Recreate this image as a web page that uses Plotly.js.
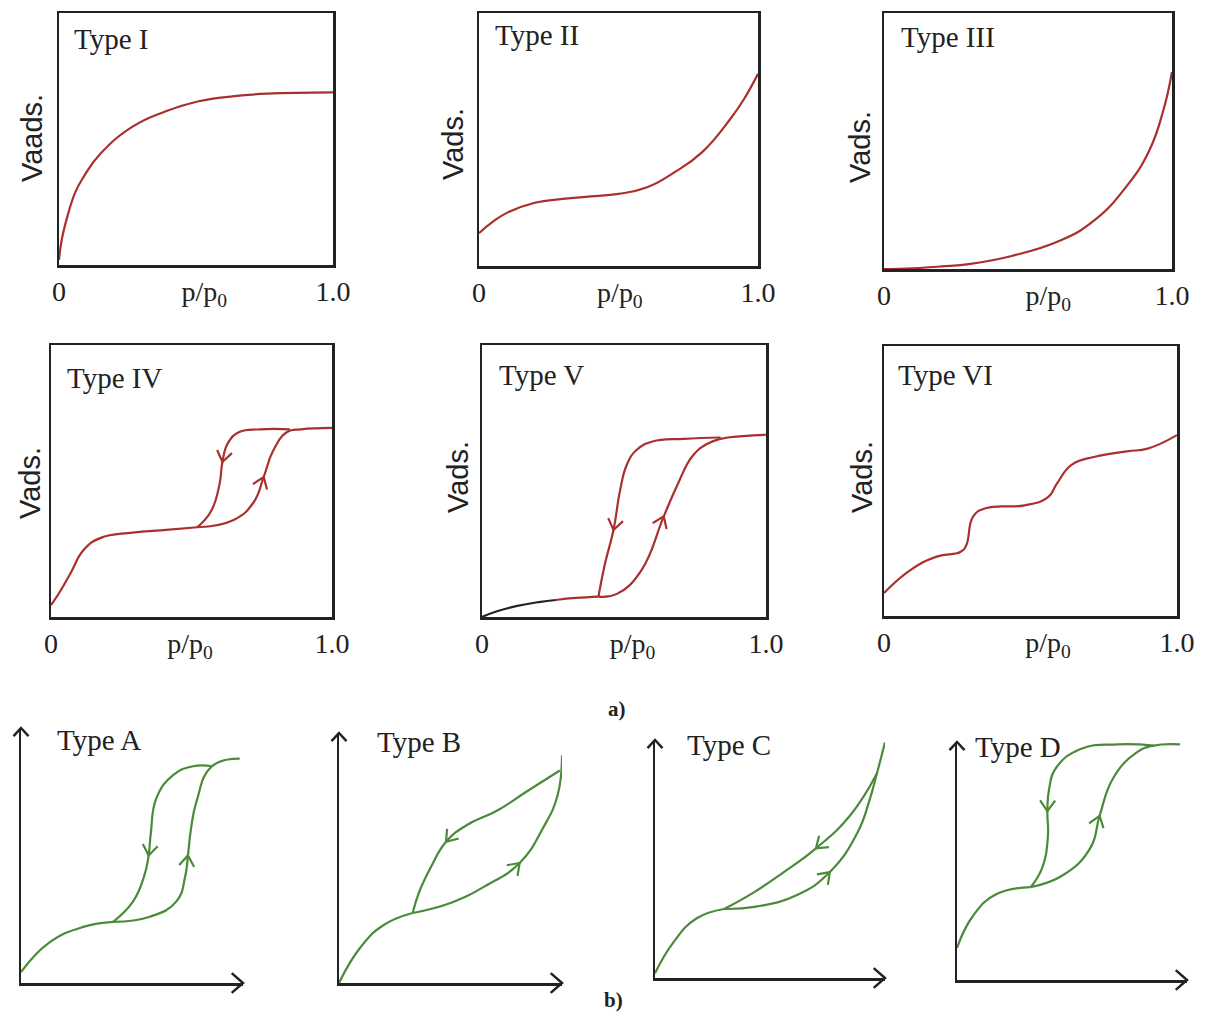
<!DOCTYPE html>
<html><head><meta charset="utf-8">
<script src="https://cdn.plot.ly/plotly-3.0.1.min.js"></script>
<style>html,body{margin:0;padding:0;background:#fff}</style>
</head><body><div id="chart" style="width:1213px;height:1017px"></div>
<script>
// ---------------- DATA (relative adsorbed volume vs p/p0) ----------------
const typeI_x = [0, 0.01, 0.03, 0.06, 0.09, 0.15, 0.27, 0.39, 0.51, 0.64, 0.76, 1.0];
const typeI_y = [0.02, 0.10, 0.19, 0.29, 0.35, 0.44, 0.55, 0.61, 0.65, 0.67, 0.68, 0.685];

const typeII_x = [0, 0.05, 0.1, 0.2, 0.3, 0.4, 0.5, 0.6, 0.7, 0.8, 0.9, 0.95, 1.0];
const typeII_y = [0.13, 0.175, 0.21, 0.25, 0.265, 0.275, 0.285, 0.31, 0.37, 0.45, 0.58, 0.66, 0.76];

const typeIII_x = [0, 0.1, 0.2, 0.3, 0.44, 0.61, 0.73, 0.84, 0.92, 0.97, 1.0];
const typeIII_y = [0, 0.003, 0.01, 0.02, 0.05, 0.11, 0.19, 0.32, 0.46, 0.62, 0.77];

const typeIV_base_x = [0, 0.03, 0.069, 0.116, 0.175, 0.29, 0.41, 0.52];
const typeIV_base_y = [0.044, 0.09, 0.16, 0.246, 0.29, 0.31, 0.32, 0.33];
const typeIV_des_x = [0.85, 0.745, 0.67, 0.63, 0.61, 0.60, 0.57, 0.52];
const typeIV_des_y = [0.69, 0.69, 0.68, 0.64, 0.57, 0.49, 0.39, 0.33];
const typeIV_ads_x = [0.52, 0.65, 0.72, 0.757, 0.79, 0.84, 0.89, 1.0];
const typeIV_ads_y = [0.33, 0.357, 0.42, 0.515, 0.61, 0.68, 0.69, 0.695];

const typeV_start_x = [0, 0.05, 0.12, 0.2, 0.26];
const typeV_start_y = [0, 0.02, 0.04, 0.055, 0.0625];
const typeV_base_x = [0.26, 0.33, 0.41];
const typeV_base_y = [0.0625, 0.07, 0.075];
const typeV_des_x = [0.84, 0.71, 0.60, 0.545, 0.51, 0.487, 0.463, 0.434, 0.41];
const typeV_des_y = [0.66, 0.655, 0.645, 0.615, 0.56, 0.47, 0.32, 0.20, 0.075];
const typeV_ads_x = [0.41, 0.475, 0.56, 0.64, 0.69, 0.74, 0.79, 0.84, 0.92, 1.0];
const typeV_ads_y = [0.075, 0.085, 0.17, 0.37, 0.49, 0.59, 0.635, 0.655, 0.665, 0.67];

const typeVI_x = [0, 0.09, 0.18, 0.26, 0.28, 0.305, 0.35, 0.48, 0.56, 0.59, 0.64, 0.72, 0.83, 0.90, 1.0];
const typeVI_y = [0.085, 0.17, 0.22, 0.237, 0.26, 0.37, 0.40, 0.41, 0.44, 0.49, 0.56, 0.59, 0.61, 0.62, 0.67];

const typeA_base_x = [0, 0.13, 0.28, 0.415];
const typeA_base_y = [0.043, 0.16, 0.22, 0.24];
const typeA_des_x = [0.86, 0.775, 0.685, 0.61, 0.585, 0.575, 0.555, 0.505, 0.415];
const typeA_des_y = [0.85, 0.85, 0.815, 0.725, 0.59, 0.50, 0.42, 0.32, 0.24];
const typeA_ads_x = [0.415, 0.58, 0.70, 0.74, 0.752, 0.765, 0.79, 0.86, 0.985];
const typeA_ads_y = [0.24, 0.26, 0.32, 0.42, 0.50, 0.60, 0.71, 0.85, 0.88];

const typeB_base_x = [0, 0.094, 0.197, 0.33];
const typeB_base_y = [0, 0.14, 0.23, 0.28];
const typeB_des_x = [0.99, 0.84, 0.71, 0.57, 0.48, 0.41, 0.36, 0.33];
const typeB_des_y = [0.85, 0.765, 0.69, 0.63, 0.565, 0.46, 0.365, 0.28];
const typeB_ads_x = [0.33, 0.50, 0.66, 0.81, 0.915, 0.98, 1.0];
const typeB_ads_y = [0.28, 0.32, 0.39, 0.48, 0.62, 0.75, 0.91];

const typeC_base_x = [0, 0.08, 0.18, 0.30];
const typeC_base_y = [0.02, 0.15, 0.25, 0.29];
const typeC_des_x = [0.965, 0.85, 0.70, 0.56, 0.43, 0.30];
const typeC_des_y = [0.86, 0.685, 0.545, 0.445, 0.36, 0.29];
const typeC_ads_x = [0.30, 0.44, 0.62, 0.76, 0.88, 0.935, 0.965, 1.0];
const typeC_ads_y = [0.29, 0.30, 0.35, 0.445, 0.61, 0.755, 0.86, 0.99];

const typeD_base_x = [0, 0.07, 0.17, 0.32];
const typeD_base_y = [0.135, 0.27, 0.36, 0.39];
const typeD_des_x = [0.855, 0.70, 0.535, 0.43, 0.40, 0.393, 0.395, 0.37, 0.32];
const typeD_des_y = [0.985, 0.99, 0.97, 0.89, 0.80, 0.71, 0.60, 0.47, 0.39];
const typeD_ads_x = [0.32, 0.46, 0.58, 0.62, 0.68, 0.78, 0.855, 0.97];
const typeD_ads_y = [0.39, 0.44, 0.555, 0.69, 0.85, 0.955, 0.985, 0.99];

// labels
const panelTitles = ['Type I', 'Type II', 'Type III', 'Type IV', 'Type V', 'Type VI', 'Type A', 'Type B', 'Type C', 'Type D'];
const yTitles = ['Vaads.', 'Vads.', 'Vads.', 'Vads.', 'Vads.', 'Vads.'];
const xTickVals = [0, 1];
const xTickText = ['0', '1.0'];
const xTitle = 'p/p<sub>0</sub>';
const xTitlePos = [0.53, 0.505, 0.57, 0.495, 0.53, 0.56];
const groupLabels = ['a)', 'b)'];

// ---------------- LAYOUT GEOMETRY ----------------
const W = 1213, H = 1017;
const RED = '#a8302e', GREEN = '#4a8a3a', BLACK = '#222';
// box panels: [left, top, right, bottom] in px
const boxRects = [[59,13,333,265],[479,13,758,266],[884,13,1172,269],[51,345,332,617],[482,345,766,617],[884,346,1177,616]];
// arrow-axis panels: [originX, originY, tipX, tipY] in px
const arrowRects = [[21,983,243,728],[339,983,562,733],[655,978,885,740],[957,980,1187,742]];
const titlePos = [[72,39],[493,35],[899,37],[65,378],[497,375],[896,375],[55,740],[375,742],[685,745],[973,747]];
const yTitlePos = [[32,138],[453,144],[860,147],[30,483],[458,477],[862,477]];
const groupPos = [[617,709],[613,1000]];

const xn = n => n === 1 ? 'x' : 'x' + n;
const yn = n => n === 1 ? 'y' : 'y' + n;
const layout = {
  width: W, height: H, margin: {l:0, r:0, t:0, b:0},
  paper_bgcolor: '#fff', plot_bgcolor: 'rgba(0,0,0,0)', showlegend: false,
  annotations: [], shapes: []
};
const pxSize = {};
boxRects.forEach((r, i) => {
  const n = i + 1;
  layout['xaxis' + (n === 1 ? '' : n)] = {
    domain: [r[0] / W, r[2] / W], range: [0, 1], anchor: yn(n),
    showline: true, mirror: true, linecolor: BLACK, linewidth: 2.5,
    showgrid: false, zeroline: false, ticks: '', fixedrange: true,
    tickmode: 'array', tickvals: [xTickVals[0], xTitlePos[i], xTickVals[1]],
    ticktext: [xTickText[0], xTitle, xTickText[1]],
    tickfont: {family: 'Liberation Serif, serif', size: 28, color: BLACK}, ticklabelstandoff: 0
  };
  layout['yaxis' + (n === 1 ? '' : n)] = {
    domain: [1 - r[3] / H, 1 - r[1] / H], range: [0, 1], anchor: xn(n),
    showline: true, mirror: true, linecolor: BLACK, linewidth: 2.5,
    showgrid: false, zeroline: false, ticks: '', showticklabels: false, fixedrange: true
  };
  pxSize[n] = [r[2] - r[0], r[3] - r[1]];
});
arrowRects.forEach((r, i) => {
  const n = i + 7;
  layout['xaxis' + n] = {
    domain: [r[0] / W, r[2] / W], range: [0, 1], anchor: yn(n),
    showline: true, linecolor: BLACK, linewidth: 2.5, showgrid: false, zeroline: false,
    ticks: '', showticklabels: false, fixedrange: true
  };
  layout['yaxis' + n] = {
    domain: [1 - r[1] / H, 1 - r[3] / H], range: [0, 1], anchor: xn(n),
    showline: true, linecolor: BLACK, linewidth: 2.5, showgrid: false, zeroline: false,
    ticks: '', showticklabels: false, fixedrange: true
  };
  pxSize[n] = [r[2] - r[0], r[1] - r[3]];
});

// chevron helper: tip at anchor, pointing along (dx,dy) given in px (y up)
function chevron(xref, yref, x0, y0, dx, dy, len, ang, color, width) {
  const m = Math.hypot(dx, dy), ux = -dx / m, uy = -dy / m;
  const c = Math.cos(ang), s = Math.sin(ang);
  const a1 = [len * (ux * c - uy * s), len * (ux * s + uy * c)];
  const a2 = [len * (ux * c + uy * s), len * (-ux * s + uy * c)];
  return {type: 'path', xref, yref, xsizemode: 'pixel', ysizemode: 'pixel', xanchor: x0, yanchor: y0,
    path: `M${a1[0].toFixed(2)},${a1[1].toFixed(2)} L0,0 L${a2[0].toFixed(2)},${a2[1].toFixed(2)}`,
    line: {color, width}, layer: 'above'};
}
// axis-end arrows for the b) panels
arrowRects.forEach(r => {
  layout.shapes.push(chevron('paper', 'paper', r[2] / W, 1 - r[1] / H, 1, 0, 15, 0.72, BLACK, 2.5));
  layout.shapes.push(chevron('paper', 'paper', r[0] / W, 1 - r[3] / H, 0, 1, 11, 0.75, BLACK, 2.5));
});

const traces = [];
function addLine(n, xs, ys, color) {
  traces.push({type: 'scatter', mode: 'lines', x: xs, y: ys, xaxis: xn(n), yaxis: yn(n),
    line: {color, width: 2.2, shape: 'spline', smoothing: 1.3}, hoverinfo: 'skip'});
}
function addArrow(n, xs, ys, i, color) {
  const [sx, sy] = pxSize[n];
  const dx = (xs[i + 1] - xs[i - 1]) * sx, dy = (ys[i + 1] - ys[i - 1]) * sy;
  layout.shapes.push(chevron(xn(n), yn(n), xs[i], ys[i], dx, dy, 13, 0.62, color, 2.2));
}

addLine(1, typeI_x, typeI_y, RED);
addLine(2, typeII_x, typeII_y, RED);
addLine(3, typeIII_x, typeIII_y, RED);
addLine(4, typeIV_base_x, typeIV_base_y, RED);
addLine(4, typeIV_des_x, typeIV_des_y, RED);
addLine(4, typeIV_ads_x, typeIV_ads_y, RED);
addArrow(4, typeIV_des_x, typeIV_des_y, 4, RED);
addArrow(4, typeIV_ads_x, typeIV_ads_y, 3, RED);
addLine(5, typeV_start_x, typeV_start_y, BLACK);
addLine(5, typeV_base_x, typeV_base_y, RED);
addLine(5, typeV_des_x, typeV_des_y, RED);
addLine(5, typeV_ads_x, typeV_ads_y, RED);
addArrow(5, typeV_des_x, typeV_des_y, 6, RED);
addArrow(5, typeV_ads_x, typeV_ads_y, 3, RED);
addLine(6, typeVI_x, typeVI_y, RED);

addLine(7, typeA_base_x, typeA_base_y, GREEN);
addLine(7, typeA_des_x, typeA_des_y, GREEN);
addLine(7, typeA_ads_x, typeA_ads_y, GREEN);
addArrow(7, typeA_des_x, typeA_des_y, 5, GREEN);
addArrow(7, typeA_ads_x, typeA_ads_y, 4, GREEN);
addLine(8, typeB_base_x, typeB_base_y, GREEN);
addLine(8, typeB_des_x, typeB_des_y, GREEN);
addLine(8, typeB_ads_x, typeB_ads_y, GREEN);
addArrow(8, typeB_des_x, typeB_des_y, 4, GREEN);
addArrow(8, typeB_ads_x, typeB_ads_y, 3, GREEN);
addLine(9, typeC_base_x, typeC_base_y, GREEN);
addLine(9, typeC_des_x, typeC_des_y, GREEN);
addLine(9, typeC_ads_x, typeC_ads_y, GREEN);
addArrow(9, typeC_des_x, typeC_des_y, 2, GREEN);
addArrow(9, typeC_ads_x, typeC_ads_y, 3, GREEN);
addLine(10, typeD_base_x, typeD_base_y, GREEN);
addLine(10, typeD_des_x, typeD_des_y, GREEN);
addLine(10, typeD_ads_x, typeD_ads_y, GREEN);
addArrow(10, typeD_des_x, typeD_des_y, 5, GREEN);
addArrow(10, typeD_ads_x, typeD_ads_y, 3, GREEN);

// text
panelTitles.forEach((t, i) => {
  layout.annotations.push({text: t, xref: 'paper', yref: 'paper', x: titlePos[i][0] / W, y: 1 - titlePos[i][1] / H,
    xanchor: 'left', yanchor: 'middle', showarrow: false,
    font: {family: 'Liberation Serif, serif', size: 29, color: BLACK}});
});
yTitles.forEach((t, i) => {
  layout.annotations.push({text: t, xref: 'paper', yref: 'paper', x: yTitlePos[i][0] / W, y: 1 - yTitlePos[i][1] / H,
    xanchor: 'center', yanchor: 'middle', textangle: -90, showarrow: false,
    font: {family: 'Liberation Sans, Arial, sans-serif', size: 29, color: BLACK}});
});
groupLabels.forEach((t, i) => {
  layout.annotations.push({text: '<b>' + t + '</b>', xref: 'paper', yref: 'paper', x: groupPos[i][0] / W, y: 1 - groupPos[i][1] / H,
    xanchor: 'center', yanchor: 'middle', showarrow: false,
    font: {family: 'Liberation Serif, serif', size: 21, color: BLACK}});
});

Plotly.newPlot('chart', traces, layout, {displayModeBar: false, staticPlot: true});
</script></body></html>
